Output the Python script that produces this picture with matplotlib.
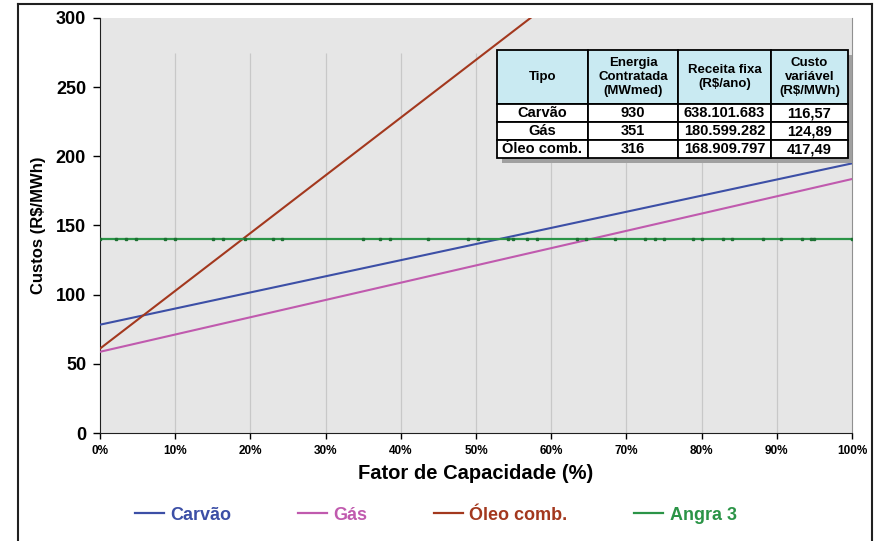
import matplotlib.pyplot as plt
from matplotlib.lines import Line2D
from matplotlib.patches import Rectangle

plt.rcParams['font.family'] = ['Liberation Sans', 'DejaVu Sans']
plt.rcParams['font.weight'] = 'bold'
plt.rcParams['axes.labelweight'] = 'bold'

# fator de capacidade (%) nos extremos e custo (R$/MWh)
fc = [0, 100]
carvao = [78.3, 194.9]
gas = [58.7, 183.6]
oleo = [61.0, 478.5]

# pontos da série Angra 3 (custo constante)
angra_fc = [0, 2.1, 3.5, 4.8, 8.6, 10, 15, 16.3, 19.3, 23, 24.2, 35, 37.2, 38.6,
            43.6, 48.9, 50.3, 54.3, 54.9, 56.8, 58.1, 63.4, 64.6, 68.5, 72.5,
            73.8, 75, 78.9, 80, 82.8, 84, 88.2, 90.6, 93.4, 94.5, 95, 100]
angra_custo = [140] * len(angra_fc)

series = ['Carvão', 'Gás', 'Óleo comb.', 'Angra 3']
cores = ['#3c4fa6', '#c05aae', '#a3381e', '#2b9447']

tab_cols = ['Tipo', 'Energia\nContratada\n(MWmed)', 'Receita fixa\n(R$/ano)',
            'Custo\nvariável\n(R$/MWh)']
tab_rows = [['Carvão', '930', '638.101.683', '116,57'],
            ['Gás', '351', '180.599.282', '124,89'],
            ['Óleo comb.', '316', '168.909.797', '417,49']]

fig = plt.figure(figsize=(8.77, 5.41), dpi=100)
ax = fig.add_axes([100 / 877, 108 / 541, 752 / 877, 415 / 541])
ax.set_facecolor('#e6e6e6')

ax.vlines(range(10, 100, 10), 0, 275, color='#c8c8c8', lw=0.9, zorder=1)

ax.plot(fc, carvao, color=cores[0], lw=1.5, zorder=3)
ax.plot(fc, gas, color=cores[1], lw=1.5, zorder=3)
ax.plot(fc, oleo, color=cores[2], lw=1.5, zorder=3)
ax.plot(angra_fc, angra_custo, color=cores[3], lw=1.6, zorder=3)
ax.plot(angra_fc, angra_custo, ls='none', marker='s', ms=2, color='#1d7033', zorder=4)

ax.set_xlim(0, 100)
ax.set_ylim(0, 300)
ax.set_xticks(range(0, 101, 10))
ax.set_xticklabels([f'{v}%' for v in range(0, 101, 10)], fontsize=8.5)
ax.set_yticks(range(0, 301, 50))
ax.tick_params(axis='y', labelsize=13, length=5, width=1, pad=5)
ax.tick_params(axis='x', length=4, width=1, pad=5)
ax.spines['top'].set_visible(False)
ax.spines['right'].set_color('#909090')
ax.spines['left'].set_color('#202020')
ax.spines['bottom'].set_color('#202020')

ax.set_xlabel('Fator de Capacidade (%)', fontsize=14.5, labelpad=5)
ax.set_ylabel('Custos (R$/MWh)', fontsize=12, labelpad=7)

# tabela com os parâmetros
x0, x1 = 397 / 752, 748 / 752
y0, y1 = 275 / 415, 383 / 415
ax.add_patch(Rectangle((x0 + 0.006, y0 - 0.012), x1 - x0, y1 - y0, transform=ax.transAxes,
                       facecolor='#a0a0a0', edgecolor='none', zorder=5))
tab = ax.table(cellText=tab_rows, colLabels=tab_cols, cellLoc='center',
               bbox=[x0, y0, x1 - x0, y1 - y0], zorder=6)
tab.auto_set_font_size(False)
larg = [91, 90, 93, 77]
tot = sum(larg)
for (r, c), cell in tab.get_celld().items():
    cell.set_width((x1 - x0) * larg[c] / tot)
    cell.set_height((y1 - y0) * (54 if r == 0 else 18) / 108)
    cell.set_linewidth(1.3)
    cell.set_edgecolor('black')
    cell.get_text().set_fontweight('bold')
    cell.get_text().set_fontsize(9.5 if r == 0 else 10.5)
    cell.get_text().set_linespacing(1.25)
    cell.set_facecolor('#c9eaf2' if r == 0 else 'white')

# moldura externa
fig.add_artist(Line2D([18 / 877, 18 / 877], [0, 537 / 541], color='#202020', lw=1.5))
fig.add_artist(Line2D([18 / 877, 872 / 877], [537 / 541, 537 / 541], color='#202020', lw=1.5))
fig.add_artist(Line2D([872 / 877, 872 / 877], [0, 537 / 541], color='#202020', lw=1.5))

handles = [Line2D([], [], color=c, lw=1.6) for c in cores]
leg = fig.legend(handles, series, loc='center', bbox_to_anchor=(0.497, 26 / 541), ncol=4,
                 frameon=False, fontsize=13, handlelength=1.6, handletextpad=0.35,
                 columnspacing=3.7, labelcolor=cores)

fig.savefig('out.png', dpi=100)
